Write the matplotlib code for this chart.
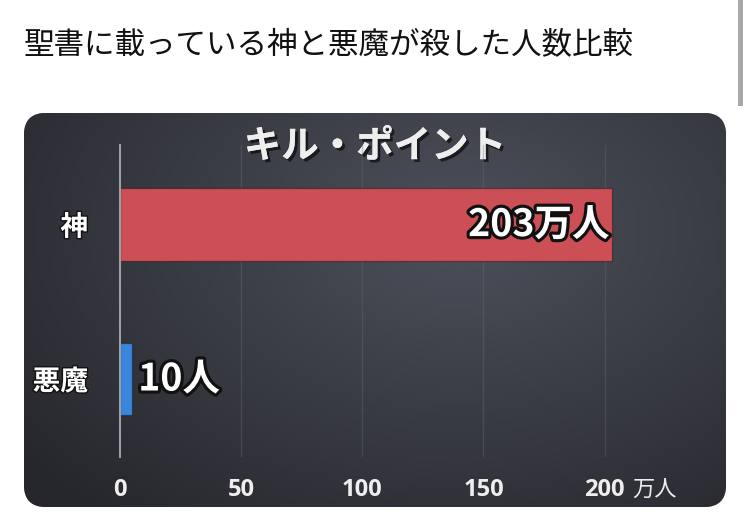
import numpy as np
import matplotlib
matplotlib.use("Agg")
import matplotlib.pyplot as plt
import matplotlib.patheffects as pe
from matplotlib.patches import FancyBboxPatch, Rectangle

plt.rcParams['font.family'] = ['Noto Sans CJK JP', 'DejaVu Sans']

# data
page_title = '聖書に載っている神と悪魔が殺した人数比較'
chart_title = 'キル・ポイント'
names = ['神', '悪魔']
kills = [2030000, 10]            # people
kill_labels = ['203万人', '10人']
bar_colors = ['#cc4f56', '#3a86dc']
xticks = [0, 50, 100, 150, 200]
unit = '万人'
MIN_BAR = 5   # the source draws tiny values as a visible stub (in 万)

W, H = 750, 528
fig = plt.figure(figsize=(W / 100, H / 100), dpi=100)
fig.patch.set_facecolor('white')

# background layer in pixel coords
bg = fig.add_axes([0, 0, 1, 1])
bg.set_xlim(0, W)
bg.set_ylim(H, 0)
bg.axis('off')

bg.text(24, 46, page_title, fontsize=22, color='#111111', va='center', ha='left')
bg.add_patch(Rectangle((738, 0), 5, 106, color='#a8a8a8', lw=0))

px0, py0, px1, py1 = 24, 113, 726, 507
panel = FancyBboxPatch((px0, py0), px1 - px0, py1 - py0,
                       boxstyle='round,pad=0,rounding_size=22',
                       facecolor='#303138', edgecolor='none')
bg.add_patch(panel)

# soft radial gradient for the panel
gx, gy = np.meshgrid(np.linspace(0, 1, 300), np.linspace(0, 1, 200))
d = np.sqrt(((gx - 0.62) / 0.8) ** 2 + ((gy - 0.3) / 0.95) ** 2)
t = np.clip(d, 0, 1)
c_in = np.array([0x4d, 0x50, 0x5b]) / 255
c_out = np.array([0x26, 0x27, 0x2c]) / 255
img = c_in[None, None, :] * (1 - t[..., None]) + c_out[None, None, :] * t[..., None]
im = bg.imshow(img, extent=(px0, px1, py1, py0), aspect='auto', zorder=1)
im.set_clip_path(panel)

bg.text((px0 + px1) / 2, 146, chart_title, fontsize=27, fontweight='bold',
        color='#eeeeee', ha='center', va='center', zorder=5,
        path_effects=[pe.withSimplePatchShadow(offset=(2, -2), shadow_rgbFace='black', alpha=0.6),
                      pe.Normal()])

# main chart axes: x 120..641 px, y 145..457 px
ax = fig.add_axes([120 / W, (H - 457) / H, (641 - 120) / W, (457 - 145) / H])
ax.patch.set_alpha(0)
ax.set_xlim(0, 215)
ax.set_ylim(-0.505, 1.515)

ypos = [1, 0]
widths = [max(k / 1e4, MIN_BAR) for k in kills]
ax.barh(ypos, widths, height=0.47, color=bar_colors, edgecolor='#00000055',
        linewidth=1, zorder=3)

for x in xticks[1:]:
    ax.axvline(x, color='#6a6d78', lw=1, alpha=0.35, zorder=1)

for s in ['top', 'right', 'bottom']:
    ax.spines[s].set_visible(False)
ax.spines['left'].set_color('#9c9ea6')
ax.spines['left'].set_linewidth(1.5)
ax.spines['left'].set_zorder(4)

ax.set_yticks(ypos)
ax.set_yticklabels(names, fontsize=20, fontweight='bold', color='white')
for lab in ax.get_yticklabels():
    lab.set_path_effects([pe.withStroke(linewidth=2, foreground='#111111')])
ax.tick_params(axis='y', length=0, pad=23)

ax.set_xticks(xticks)
ax.set_xticklabels([str(v) for v in xticks], fontsize=17, fontweight='bold',
                   color='#eeeeee', family=['Open Sans', 'Noto Sans CJK JP'])
ax.tick_params(axis='x', length=0, pad=15)
bg.text(632, 490, unit, fontsize=16, color='#eeeeee', ha='left', va='center', zorder=5)

stroke = [pe.withStroke(linewidth=4.5, foreground='#111111')]
ax.text(widths[0] - 1, ypos[0], kill_labels[0], fontsize=27, fontweight='bold',
        color='white', ha='right', va='center', zorder=6, path_effects=stroke)
ax.text(widths[1] + 2.5, ypos[1], kill_labels[1], fontsize=27, fontweight='bold',
        color='white', ha='left', va='center', zorder=6, path_effects=stroke)

fig.savefig('out.png', dpi=100)
